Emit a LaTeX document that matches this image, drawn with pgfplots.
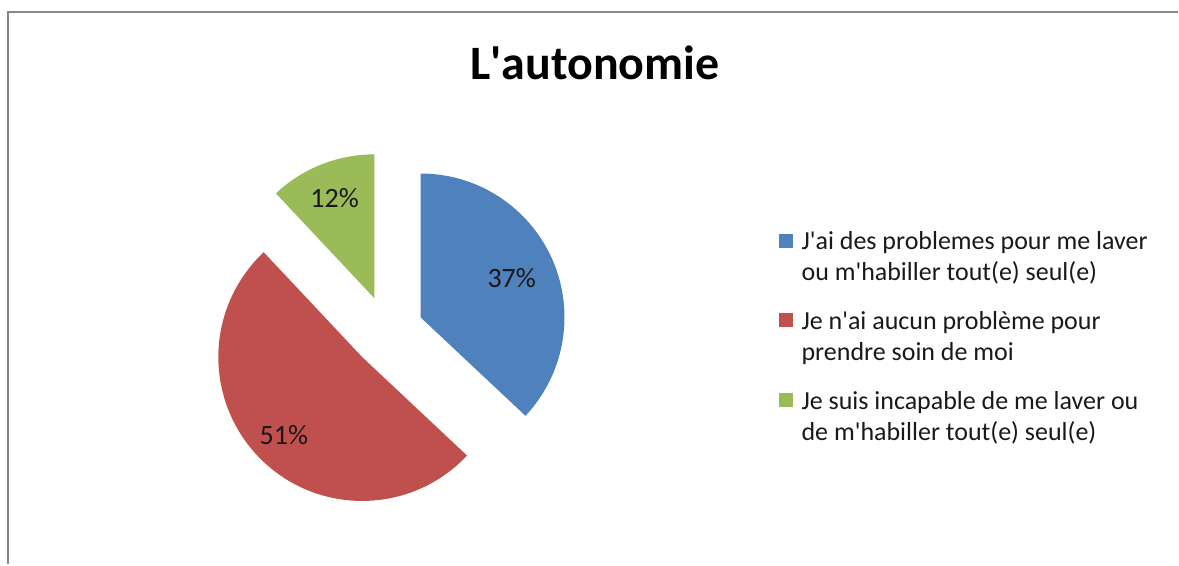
\documentclass[border=0pt]{standalone}
\usepackage{pgfplots}
\pgfplotsset{compat=1.18}
\usetikzlibrary{calc}
\usepackage{fontspec}
\setmainfont{Carlito}
\definecolor{pblue}{HTML}{4F81BD}
\definecolor{pred}{HTML}{C0504D}
\definecolor{pgreen}{HTML}{9BBB59}
\definecolor{frame}{HTML}{878787}
\newcommand{\q}{\textquotesingle}
\begin{document}
\begin{tikzpicture}
\begin{axis}[hide axis, x=0.5pt, y=0.5pt, xmin=0, xmax=1179, ymin=0, ymax=565,
  disabledatascaling, clip=false, scale only axis]
\path (axis cs:0,0) rectangle (axis cs:1179,565);
\draw[frame, line width=1.2pt] (axis cs:8,0) -- (axis cs:8,553) -- (axis cs:1179,553);
\node[anchor=base, font=\fontsize{24}{28}\selectfont\bfseries] at (axis cs:595.5,485) {L\q autonomie};
% pie: value / colour / label radius factor
\foreach \p/\col/\lf [remember=\e as \s (initially 90)] in {37/pblue/0.69, 51/pred/0.77, 12/pgreen/0.75} {
  \pgfmathsetmacro\e{\s-3.6*\p}
  \pgfmathsetmacro\m{(\s+\e)/2}
  \pgfmathsetmacro\lr{\lf*72+18}
  \edef\temp{\noexpand\fill[\col] (axis cs:388,233) ++(\m:18pt) -- ++(\s:72pt) arc[start angle=\s, end angle=\e, radius=72pt] -- cycle;
    \noexpand\node[font=\noexpand\fontsize{14}{16}\noexpand\selectfont, text=black!90] at ($(axis cs:388,233)+(\m:\lr pt)$) {\p\noexpand\%};}
  \temp
}
% legend
\fill[pblue] (axis cs:780,317) rectangle (axis cs:794,331);
\fill[pred] (axis cs:780,238) rectangle (axis cs:794,252);
\fill[pgreen] (axis cs:780,158) rectangle (axis cs:794,172);
\tikzset{lg/.style={anchor=base west, inner sep=0pt, font=\fontsize{13}{15.5}\selectfont, text=black!90}}
\node[lg] at (axis cs:802,315) {J\q ai des problemes pour me laver};
\node[lg] at (axis cs:802,284) {ou m\q habiller tout(e) seul(e)};
\node[lg] at (axis cs:802,235) {Je n\q ai aucun problème pour};
\node[lg] at (axis cs:802,204) {prendre soin de moi};
\node[lg] at (axis cs:802,155) {Je suis incapable de me laver ou};
\node[lg] at (axis cs:802,124) {de m\q habiller tout(e) seul(e)};
\end{axis}
\end{tikzpicture}
\end{document}
